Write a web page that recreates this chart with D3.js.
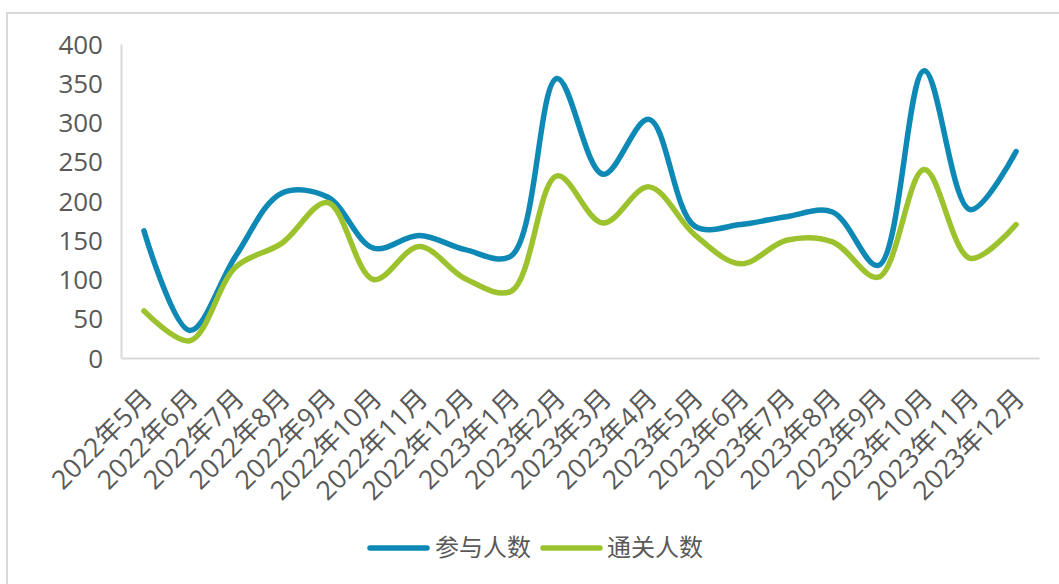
<!DOCTYPE html>
<html><head><meta charset="utf-8">
<script src="https://cdn.jsdelivr.net/npm/d3@7"></script>
<style>
html,body{margin:0;padding:0;background:#fff;}
svg{display:block;}
text{font-family:"Open Sans","Noto Sans CJK SC",sans-serif;fill:#595959;}
</style></head>
<body>
<svg id="c" width="1059" height="584"></svg>
<script>
const categories = ["2022年5月","2022年6月","2022年7月","2022年8月","2022年9月","2022年10月","2022年11月","2022年12月","2023年1月","2023年2月","2023年3月","2023年4月","2023年5月","2023年6月","2023年7月","2023年8月","2023年9月","2023年10月","2023年11月","2023年12月"];
const participants = [162,35,130,210,205,140,156,138,130,356,234,304,168,170,180,186,118,366,189,263];
const passed = [60,22,116,146,198,100,142,101,85,232,172,218,157,120,150,148,103,240,127,170];
const yTicks = [0,50,100,150,200,250,300,350,400];
const seriesNames = ["参与人数","通关人数"];
const colors = ["#0e89b5","#9cc22e"];

const svg = d3.select("#c");
svg.append("path").attr("d","M7,584 L7,13 L1059,13").attr("fill","none").attr("stroke","#d9d9d9").attr("stroke-width",2);

const mLeft = 121, mRight = 1039, mTop = 44, mBottom = 358;
const x = d3.scaleBand().domain(categories).range([mLeft,mRight]);
const y = d3.scaleLinear().domain([0,400]).range([mBottom,mTop]);

const gy = svg.append("g").attr("transform",`translate(${mLeft},0)`)
  .call(d3.axisLeft(y).tickValues(yTicks).tickSize(0).tickPadding(18));
gy.select(".domain").attr("stroke","#d9d9d9").attr("stroke-width",2);
gy.selectAll("text").style("font-size","26px").attr("fill","#595959").attr("dy","0.35em");

const gx = svg.append("g").attr("transform",`translate(0,${mBottom})`)
  .call(d3.axisBottom(x).tickSize(0).tickPadding(0));
gx.select(".domain").attr("stroke","#d9d9d9").attr("stroke-width",2);
gx.selectAll(".tick text").style("font-size","26.5px").attr("fill","#595959")
  .attr("text-anchor","end").attr("y",0).attr("dy",0)
  .attr("transform","translate(10,42) rotate(-45)");

const line = d3.line().x((d,i)=>x(categories[i])+x.bandwidth()/2).y(d=>y(d)).curve(d3.curveCatmullRom.alpha(0.5));
[participants,passed].forEach((s,k)=>{
  svg.append("path").datum(s).attr("d",line).attr("fill","none")
    .attr("stroke",colors[k]).attr("stroke-width",5.5).attr("stroke-linecap","round").attr("stroke-linejoin","round");
});

const lg = [{x:370,tx:435},{x:543,tx:607}];
seriesNames.forEach((n,k)=>{
  svg.append("line").attr("x1",lg[k].x).attr("x2",lg[k].x+57).attr("y1",548).attr("y2",548)
    .attr("stroke",colors[k]).attr("stroke-width",5.5).attr("stroke-linecap","round");
  svg.append("text").attr("x",lg[k].tx).attr("y",548).attr("dy","0.35em").style("font-size","24px").text(n);
});
</script>
</body></html>
